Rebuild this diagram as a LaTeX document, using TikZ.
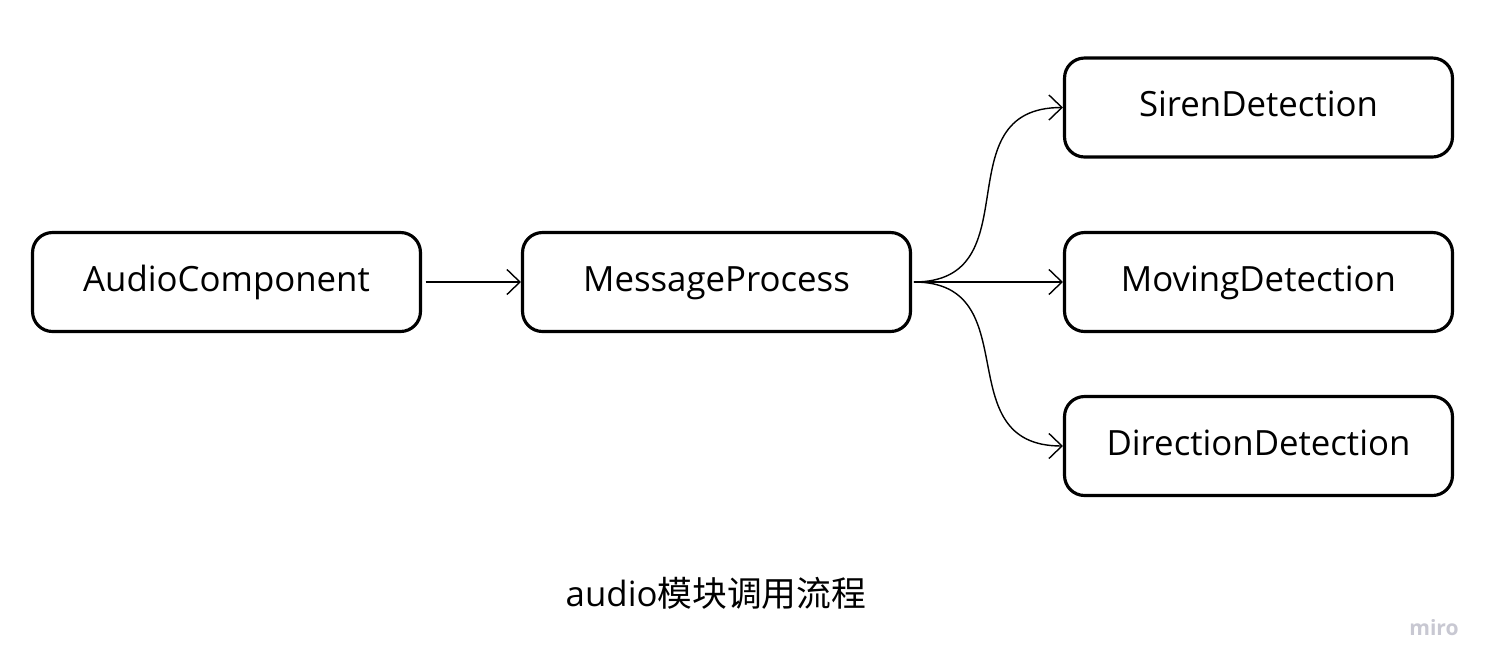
\documentclass[tikz,border=0pt]{standalone}
\usepackage{fontspec}
\setmainfont{Open Sans}
\newfontfamily\cjk{Noto Sans CJK SC}
\usetikzlibrary{arrows.meta, positioning}
\definecolor{mirogray}{RGB}{200,200,210}

\begin{document}
\begin{tikzpicture}[x=0.02cm, y=-0.02cm,
    blk/.style={draw, line width=1.8pt, rounded corners=0.4cm, minimum width=7.76cm, minimum height=1.98cm,
        text height=0.52cm, text depth=0.16cm, font=\fontsize{19.8}{24}\selectfont},
    link/.style={line width=0.8pt, -{Straight Barb[length=0.26cm, width=0.5cm, line width=0.8pt]}}]
    \useasboundingbox (0, 0) rectangle (1491, 670);
    \node[blk] (audio) at (226.5, 282) {AudioComponent};
    \node[blk] (msg) at (716.5, 282) {MessageProcess};
    \node[blk] (siren) at (1258.5, 107.5) {SirenDetection};
    \node[blk] (moving) at (1258.5, 282) {MovingDetection};
    \node[blk] (direction) at (1258.5, 446) {DirectionDetection};
    \draw[link, shorten <=2pt] (audio.east) -- (msg.west);
    \draw[link, shorten <=1pt] (msg.east) to[out=0, in=180, looseness=1.35] (siren.west);
    \draw[link, shorten <=1pt] (msg.east) -- (moving.west);
    \draw[link, shorten <=1pt] (msg.east) to[out=0, in=180, looseness=1.35] (direction.west);
    \node[font=\fontsize{19.8}{24}\selectfont] (title) at (716, 593) {audio{\cjk 模块调用流程}};
    \node[font=\fontsize{12}{14}\selectfont\bfseries, text=mirogray] (miro) at (1434, 628) {miro};
\end{tikzpicture}
\end{document}
